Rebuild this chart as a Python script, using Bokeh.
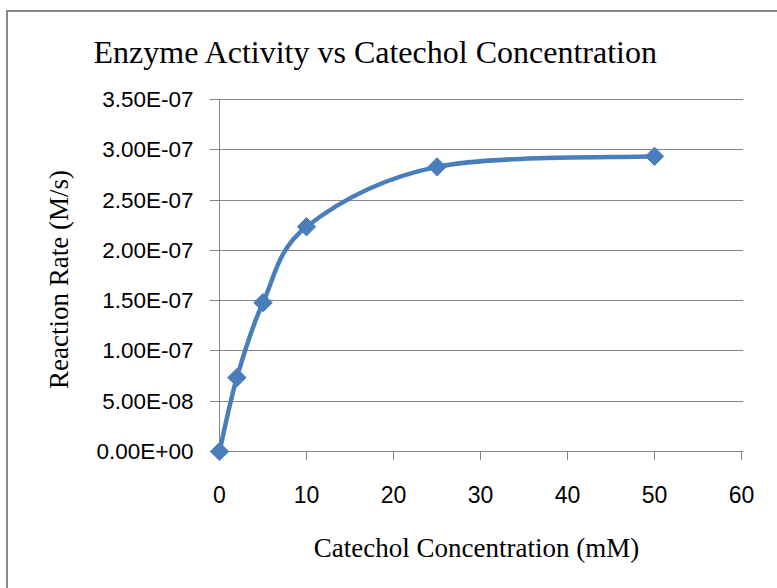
import numpy as np
from bokeh.plotting import figure
from bokeh.models import Range1d, FixedTicker, CustomJSTickFormatter
from bokeh.embed import file_html
from bokeh.resources import INLINE

# data
concentration = [0, 2, 5, 10, 25, 50]
rate = [0.0, 7.35e-8, 1.48e-7, 2.235e-7, 2.83e-7, 2.935e-7]
x_ticks = [0, 10, 20, 30, 40, 50, 60]
y_ticks = [0, 5e-8, 1e-7, 1.5e-7, 2e-7, 2.5e-7, 3e-7, 3.5e-7]
y_tick_labels = ["0.00E+00", "5.00E-08", "1.00E-07", "1.50E-07", "2.00E-07",
                 "2.50E-07", "3.00E-07", "3.50E-07"]

BLUE = "#4a7ebb"
GRAY = "#878787"

# frame geometry (pixels): plot area 522 x 352, padded so end markers/ticks are not clipped
PLOT_W, PLOT_H = 522, 352
PAD_L, PAD_R, PAD_B, PAD_T = 10, 2, 9, 1
x_end = x_ticks[-1]
y_end = y_ticks[-1]
x_start = -PAD_L * x_end / PLOT_W
y_start = -PAD_B * y_end / PLOT_H

p = figure(width=777, height=588, output_backend="svg", toolbar_location=None,
           x_range=Range1d(x_start, x_end + PAD_R * x_end / PLOT_W),
           y_range=Range1d(y_start, y_end + PAD_T * y_end / PLOT_H),
           min_border_left=209, min_border_right=34, min_border_top=98, min_border_bottom=128)
p.outline_line_color = None
p.background_fill_color = "white"
p.border_fill_color = None
p.styles = {
    "background-color": "white",
    "background-image": "linear-gradient(#878787, #878787), linear-gradient(#878787, #878787)",
    "background-size": "2px 100%, 100% 2px",
    "background-position": "6px 10px, 6px 10px",
    "background-repeat": "no-repeat",
}

# title
p.title.text = "Enzyme Activity vs Catechol Concentration"
p.title.text_font = "Liberation Serif"
p.title.text_font_size = "32px"
p.title.text_font_style = "normal"
p.title.text_color = "black"
p.title.align = "left"
p.title.offset = -116
p.title.standoff = 58

# axes
p.xaxis.ticker = FixedTicker(ticks=x_ticks)
p.yaxis.ticker = FixedTicker(ticks=y_ticks)
p.yaxis.formatter = CustomJSTickFormatter(args=dict(labels=y_tick_labels),
                                          code="return labels[index];")
for ax in (p.xaxis, p.yaxis):
    ax.axis_line_color = None
    ax.major_tick_line_color = None
    ax.minor_tick_line_color = None
    ax.major_label_text_font = "Liberation Sans"
    ax.major_label_text_font_size = "23px"
    ax.major_label_text_color = "black"
    ax.axis_label_text_font = "Liberation Serif"
    ax.axis_label_text_font_size = "27px"
    ax.axis_label_text_font_style = "normal"
    ax.axis_label_text_color = "black"
p.yaxis.major_label_text_font_size = "22.5px"
p.yaxis.major_label_standoff = 10
p.xaxis.major_label_standoff = 19
p.xaxis.axis_label = "Catechol Concentration (mM)"
p.yaxis.axis_label = "Reaction Rate (M/s)"
p.xaxis.axis_label_standoff = 27
p.yaxis.axis_label_standoff = 20

p.xgrid.grid_line_color = None
p.ygrid.grid_line_color = GRAY
p.ygrid.grid_line_width = 1

# vertical axis line from 0 to the top of the value axis
p.segment(x0=[x_ticks[0]], y0=[y_ticks[0]], x1=[x_ticks[0]], y1=[y_ticks[-1]],
          line_color=GRAY, line_width=1)
# tick marks hanging below the zero line
p.segment(x0=x_ticks, y0=[y_ticks[0]] * len(x_ticks), x1=x_ticks, y1=[y_start] * len(x_ticks),
          line_color=GRAY, line_width=1)

# smooth curve (Catmull-Rom style bezier segments through the data points)
xs = np.array(concentration, dtype=float)
ys = np.array(rate, dtype=float)
n = len(xs)
px = np.concatenate([[xs[0]], xs, [xs[-1]]])
py = np.concatenate([[ys[0]], ys, [ys[-1]]])
x0, y0, x1, y1, cx0, cy0, cx1, cy1 = [], [], [], [], [], [], [], []
for i in range(n - 1):
    a, b, c, d = i, i + 1, i + 2, i + 3
    x0.append(px[b]); y0.append(py[b]); x1.append(px[c]); y1.append(py[c])
    cx0.append(px[b] + (px[c] - px[a]) / 6); cy0.append(py[b] + (py[c] - py[a]) / 6)
    cx1.append(px[c] - (px[d] - px[b]) / 6); cy1.append(py[c] - (py[d] - py[b]) / 6)
p.bezier(x0=x0, y0=y0, x1=x1, y1=y1, cx0=cx0, cy0=cy0, cx1=cx1, cy1=cy1,
         line_color=BLUE, line_width=4.5)

p.scatter(x=concentration, y=rate, marker="square", angle=np.pi / 4, size=13,
          fill_color=BLUE, line_color=BLUE)

open("out.html", "w").write(file_html(p, INLINE))
